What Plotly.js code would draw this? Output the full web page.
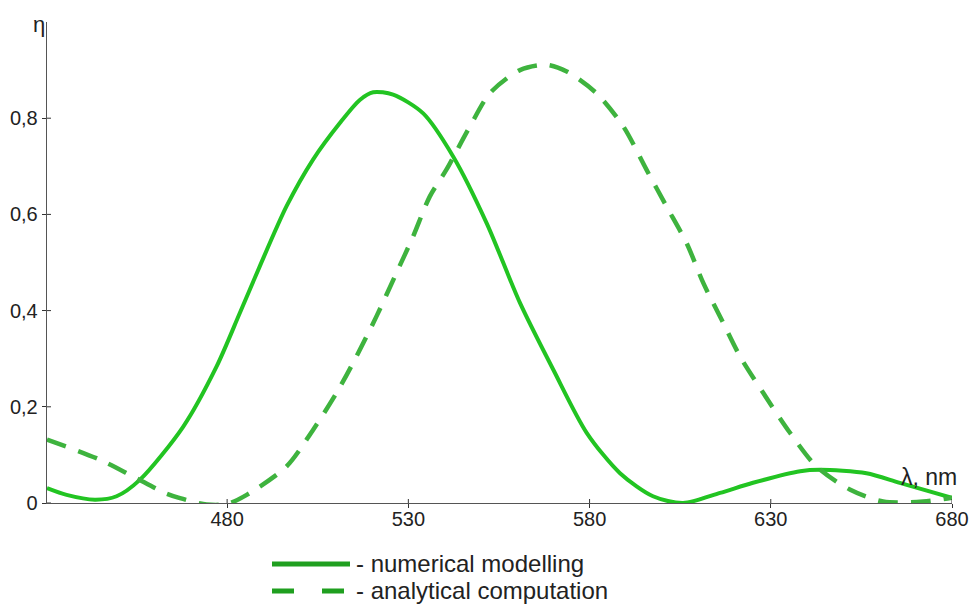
<!DOCTYPE html>
<html>
<head>
<meta charset="utf-8">
<script src="https://cdn.plot.ly/plotly-3.0.1.min.js"></script>
<style>html,body{margin:0;padding:0;background:#fff;}#chart{width:971px;height:606px;}</style>
</head>
<body>
<div id="chart"></div>
<script>
// Numerical modelling (solid)
const numLambda = [430.3, 435.7, 443.5, 449.5, 455.9, 467.9, 477.1, 483.5, 489.0, 496.4, 503.7, 511.1, 516.6, 520.3, 525.8, 534.1, 542.4, 551.6, 560.8, 570.0, 579.2, 588.4, 597.5, 605.8, 616.0, 625.1, 638.1, 643.6, 656.4, 665.6, 680];
const numEta    = [0.031, 0.017, 0.007, 0.014, 0.048, 0.159, 0.284, 0.395, 0.492, 0.617, 0.714, 0.790, 0.838, 0.854, 0.849, 0.810, 0.720, 0.582, 0.416, 0.277, 0.146, 0.062, 0.014, 0.000, 0.021, 0.042, 0.066, 0.069, 0.062, 0.042, 0.011];
// Analytical computation (dashed)
const anaLambda = [430.3, 444.9, 454.1, 462.8, 467.0, 474.3, 480.0, 485.4, 496.4, 503.7, 510.2, 515.7, 521.2, 526.7, 531.3, 535.9, 540.5, 547.0, 552.5, 560.8, 568.1, 573.7, 581.9, 589.3, 595.7, 601.2, 606.8, 611.4, 616.9, 621.5, 627.9, 635.3, 642.6, 651.8, 661.0, 672.0, 680];
const anaEta    = [0.132, 0.090, 0.055, 0.021, 0.010, -0.003, -0.002, 0.017, 0.076, 0.152, 0.229, 0.305, 0.388, 0.478, 0.554, 0.637, 0.693, 0.783, 0.852, 0.900, 0.911, 0.897, 0.852, 0.783, 0.693, 0.617, 0.540, 0.457, 0.374, 0.305, 0.229, 0.146, 0.076, 0.028, 0.003, 0.003, 0.011];

const xTickVals = [480, 530, 580, 630, 680];
const xTickText = ['480', '530', '580', '630', '680'];
const yTickVals = [0, 0.2, 0.4, 0.6, 0.8];
const yTickText = ['0', '0,2', '0,4', '0,6', '0,8'];
const legendLabels = ['- numerical modelling', '- analytical computation'];

const solidColor = '#22c422';
const dashColor = '#3eb33e';
const legendColor = '#1f9f1f';
const font = 'Liberation Sans, Arial, sans-serif';
const textColor = '#222';

const traces = [
  {x: numLambda, y: numEta, type: 'scatter', mode: 'lines', line: {color: solidColor, width: 4, shape: 'spline', smoothing: 0.8}, hoverinfo: 'skip'},
  {x: anaLambda, y: anaEta, type: 'scatter', mode: 'lines', line: {color: dashColor, width: 4.5, shape: 'spline', smoothing: 0.8, dash: '20px,13px'}, hoverinfo: 'skip'}
];

const layout = {
  width: 971, height: 606,
  margin: {l: 47, r: 19, t: 22, b: 103},
  paper_bgcolor: '#fff', plot_bgcolor: '#fff',
  showlegend: false,
  xaxis: {range: [430.3, 680], showgrid: false, zeroline: false, showline: true, linecolor: '#555', linewidth: 1.3,
    ticks: 'outside', ticklen: 4, tickwidth: 1, tickcolor: '#333',
    tickmode: 'array', tickvals: xTickVals, ticktext: xTickText, ticklabelstandoff: -6,
    tickfont: {family: font, size: 20, color: textColor}},
  yaxis: {range: [0, 1.0], showgrid: false, zeroline: false, showline: true, linecolor: '#555', linewidth: 1.3,
    ticks: 'outside', ticklen: 4, tickwidth: 1, tickcolor: '#333',
    tickmode: 'array', tickvals: yTickVals, ticktext: yTickText,
    tickfont: {family: font, size: 20, color: textColor}},
  annotations: [
    {text: 'η', xref: 'paper', yref: 'paper', x: 0, y: 1, xanchor: 'right', yanchor: 'bottom', xshift: 0, yshift: -17, showarrow: false, font: {family: font, size: 22, color: textColor}},
    {text: 'λ, nm', xref: 'paper', yref: 'y', x: 1, y: 0.055, xanchor: 'right', yanchor: 'middle', xshift: 7, showarrow: false, font: {family: font, size: 23, color: textColor}},
    {text: legendLabels[0], xref: 'paper', yref: 'paper', x: (354 - 47) / 905, y: -(563 - 503) / 481, xanchor: 'left', yanchor: 'middle', showarrow: false, font: {family: font, size: 24, color: textColor}},
    {text: legendLabels[1], xref: 'paper', yref: 'paper', x: (354 - 47) / 905, y: -(590 - 503) / 481, xanchor: 'left', yanchor: 'middle', showarrow: false, font: {family: font, size: 24, color: textColor}}
  ],
  shapes: [
    {type: 'line', xref: 'paper', yref: 'paper', x0: (272 - 47) / 905, x1: (350 - 47) / 905, y0: -(564 - 503) / 481, y1: -(564 - 503) / 481, line: {color: legendColor, width: 5}},
    {type: 'line', xref: 'paper', yref: 'paper', x0: (272 - 47) / 905, x1: (350 - 47) / 905, y0: -(591 - 503) / 481, y1: -(591 - 503) / 481, line: {color: legendColor, width: 5, dash: '22px,28px'}}
  ]
};

// inside tick marks, so that ticks cross the axis lines
xTickVals.forEach(function (v) {
  layout.shapes.push({type: 'line', xref: 'x', yref: 'paper', x0: v, x1: v, y0: 0, y1: 4 / 481, line: {color: '#333', width: 1}});
});
yTickVals.forEach(function (v) {
  layout.shapes.push({type: 'line', xref: 'paper', yref: 'y', x0: 0, x1: 4 / 905, y0: v, y1: v, line: {color: '#333', width: 1}});
});

Plotly.newPlot('chart', traces, layout, {staticPlot: true});
</script>
</body>
</html>
